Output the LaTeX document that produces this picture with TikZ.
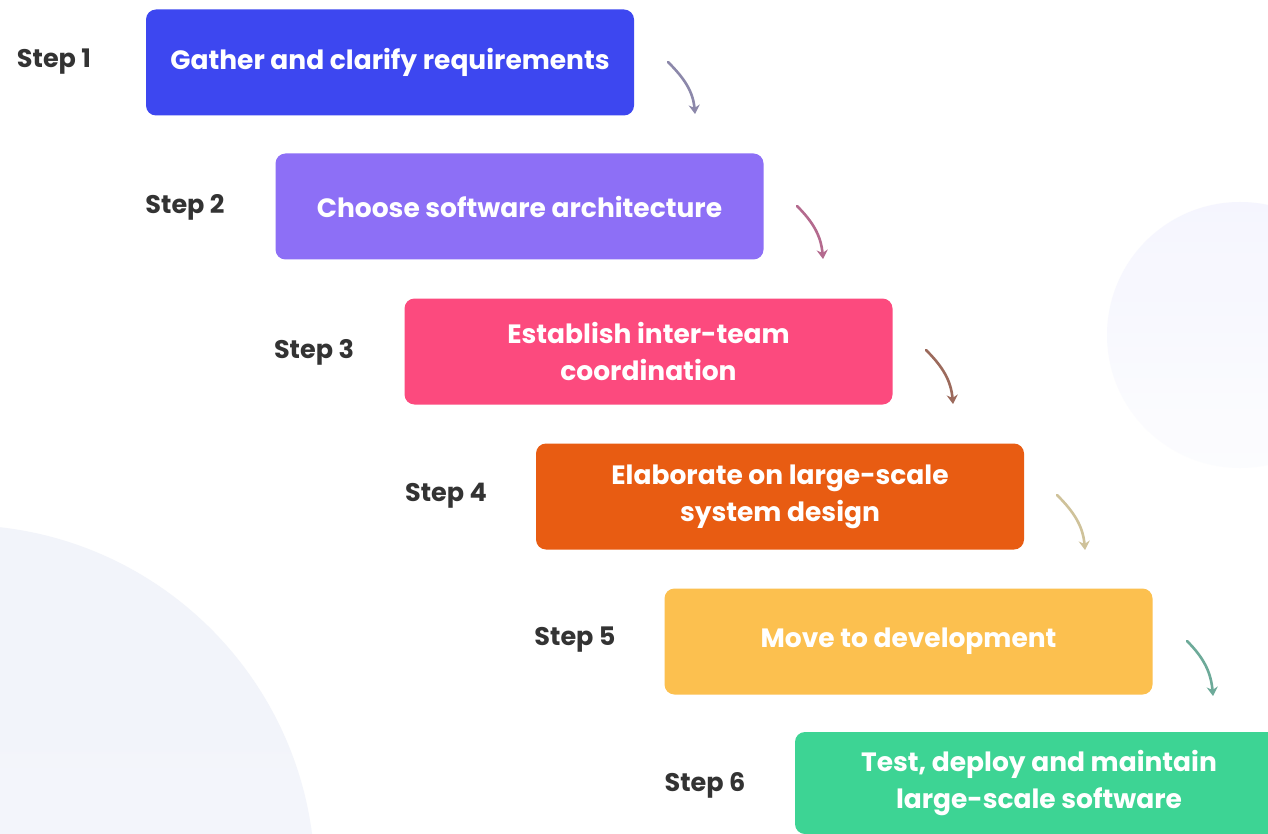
\documentclass[tikz,border=0pt]{standalone}
\usepackage{fontspec}
\setmainfont{Poppins}
\usetikzlibrary{arrows.meta}
\definecolor{cA}{HTML}{3D47F0}
\definecolor{cB}{HTML}{8D6FF6}
\definecolor{cC}{HTML}{FC4A7E}
\definecolor{cD}{HTML}{E85C12}
\definecolor{cE}{HTML}{FCC04F}
\definecolor{cF}{HTML}{3DD494}
\definecolor{aA}{HTML}{8C88AA}
\definecolor{aB}{HTML}{B46A8E}
\definecolor{aC}{HTML}{9C6A5C}
\definecolor{aD}{HTML}{CFC29A}
\definecolor{aE}{HTML}{6DAA99}
\definecolor{blob}{HTML}{F3F5FB}
\definecolor{steptext}{HTML}{333333}
\tikzset{
  stepbox/.style={rounded corners=10pt, minimum width=488pt, minimum height=106pt,
    text=white, align=center, font=\fontsize{26.5}{37}\selectfont\bfseries, inner sep=0pt},
  steplabel/.style={text=steptext, font=\fontsize{25.5}{28}\selectfont\bfseries, inner sep=0pt},
  flowarrow/.style={line width=2.6pt, -{Stealth[length=9pt,width=11pt]}, line cap=round}
}
\begin{document}
\begin{tikzpicture}[x=1pt,y=-1pt]
\useasboundingbox (0,0) rectangle (1268,834);
\clip (0,0) rectangle (1268,834);
\fill[white] (0,0) rectangle (1268,834);
% background blobs
\shade[top color=blob!80!blue!20!white, bottom color=blob!30!white, opacity=0.8] (1240,335) circle (133);
\shade[top color=blob!90!black!3!blob, bottom color=blob] (-40,880) circle (355);
% boxes
\node[stepbox, fill=cA] (b1) at (390,62.5) {Gather and clarify requirements};
\node[stepbox, fill=cB] (b2) at (519.5,206.5) {Choose software architecture};
\node[stepbox, fill=cC] (b3) at (648.5,351.5) {Establish inter-team\\coordination};
\node[stepbox, fill=cD] (b4) at (780,496.5) {Elaborate on large-scale\\system design};
\node[stepbox, fill=cE] (b5) at (908.5,641.5) {Move to development};
\node[stepbox, fill=cF, minimum height=102pt] (b6) at (1039,783) {Test, deploy and maintain\\large-scale software};
% step labels
\node[steplabel] (s1) at (54,62) {Step 1};
\node[steplabel] (s2) at (185,207) {Step 2};
\node[steplabel] (s3) at (314,352) {Step 3};
\node[steplabel] (s4) at (446,496) {Step 4};
\node[steplabel] (s5) at (575,640) {Step 5};
\node[steplabel] (s6) at (705,785) {Step 6};
% arrows
\coordinate (a1s) at (668,62);   \coordinate (a1e) at (695,114);
\coordinate (a2s) at (797,206);  \coordinate (a2e) at (823,259);
\coordinate (a3s) at (926,350);  \coordinate (a3e) at (953,404);
\coordinate (a4s) at (1057,495); \coordinate (a4e) at (1085,550);
\coordinate (a5s) at (1187,641); \coordinate (a5e) at (1213,696);
\draw[flowarrow, aA] (a1s) to[out=-45,in=95] (a1e);
\draw[flowarrow, aB] (a2s) to[out=-45,in=95] (a2e);
\draw[flowarrow, aC] (a3s) to[out=-45,in=95] (a3e);
\draw[flowarrow, aD] (a4s) to[out=-45,in=95] (a4e);
\draw[flowarrow, aE] (a5s) to[out=-45,in=95] (a5e);
\end{tikzpicture}
\end{document}
